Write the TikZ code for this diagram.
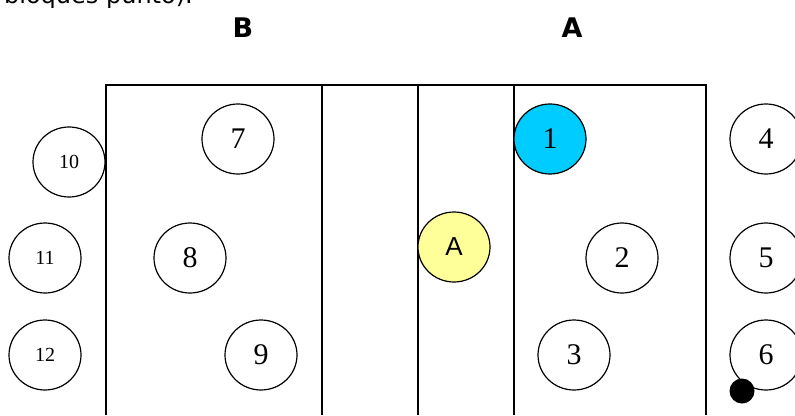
\documentclass[tikz,border=0pt]{standalone}
\usepackage{fontspec}
\setmainfont{Liberation Serif}
\newfontfamily\versans{DejaVu Sans}
\newfontfamily\arialfont{Liberation Sans}
\usetikzlibrary{shapes.geometric}
\begin{document}
\begin{tikzpicture}[x=1pt,y=-1pt,
  court/.style={line width=1.4pt},
  player/.style={ellipse,draw,line width=1.2pt,minimum width=72pt,minimum height=70pt,inner sep=0pt,font=\fontsize{30}{30}\selectfont},
  smallplayer/.style={player,font=\fontsize{20}{20}\selectfont},
  team/.style={font=\versans\bfseries\fontsize{27}{27}\selectfont},
  ball/.style={circle,fill=black,minimum size=25pt,inner sep=0pt}
]
\definecolor{cyanfill}{HTML}{00CCFF}
\definecolor{yellowfill}{HTML}{FFFF99}
\useasboundingbox (0,0) rectangle (795,415);
% cut-off text at top
\begin{scope}
\clip (0,0) rectangle (795,415);
\node[anchor=base east,inner sep=0pt,font=\versans\fontsize{24}{24}\selectfont] (toptext) at (193,4) {bloques punto).};
\end{scope}
% team labels
\node[team] (labB) at (243,28) {B};
\node[team] (labA) at (572,28) {A};
% court
\coordinate (c1t) at (106,85);
\coordinate (c5t) at (706,85);
\draw[court] (106,415) -- (c1t) -- (c5t) -- (706,415);
\draw[court] (322,85) -- (322,415);
\draw[court] (418,85) -- (418,415);
\draw[court] (514,85) -- (514,415);
% players team B
\node[player] (p7) at (238,139) {7};
\node[player] (p8) at (190,258) {8};
\node[player] (p9) at (261,355) {9};
\node[smallplayer] (p10) at (69,162) {10};
\node[smallplayer] (p11) at (45,258) {11};
\node[smallplayer] (p12) at (45,355) {12};
% players team A
\node[player,fill=cyanfill] (p1) at (550,139) {1};
\node[player] (p2) at (622,258) {2};
\node[player] (p3) at (574,355) {3};
\node[player] (p4) at (766,139) {4};
\node[player] (p5) at (766,258) {5};
\node[player] (p6) at (766,355) {6};
% referee / A
\node[player,fill=yellowfill,font=\arialfont\fontsize{26}{26}\selectfont] (pA) at (454,247) {A};
% ball
\node[ball] (ball) at (742,391) {};
\end{tikzpicture}
\end{document}
